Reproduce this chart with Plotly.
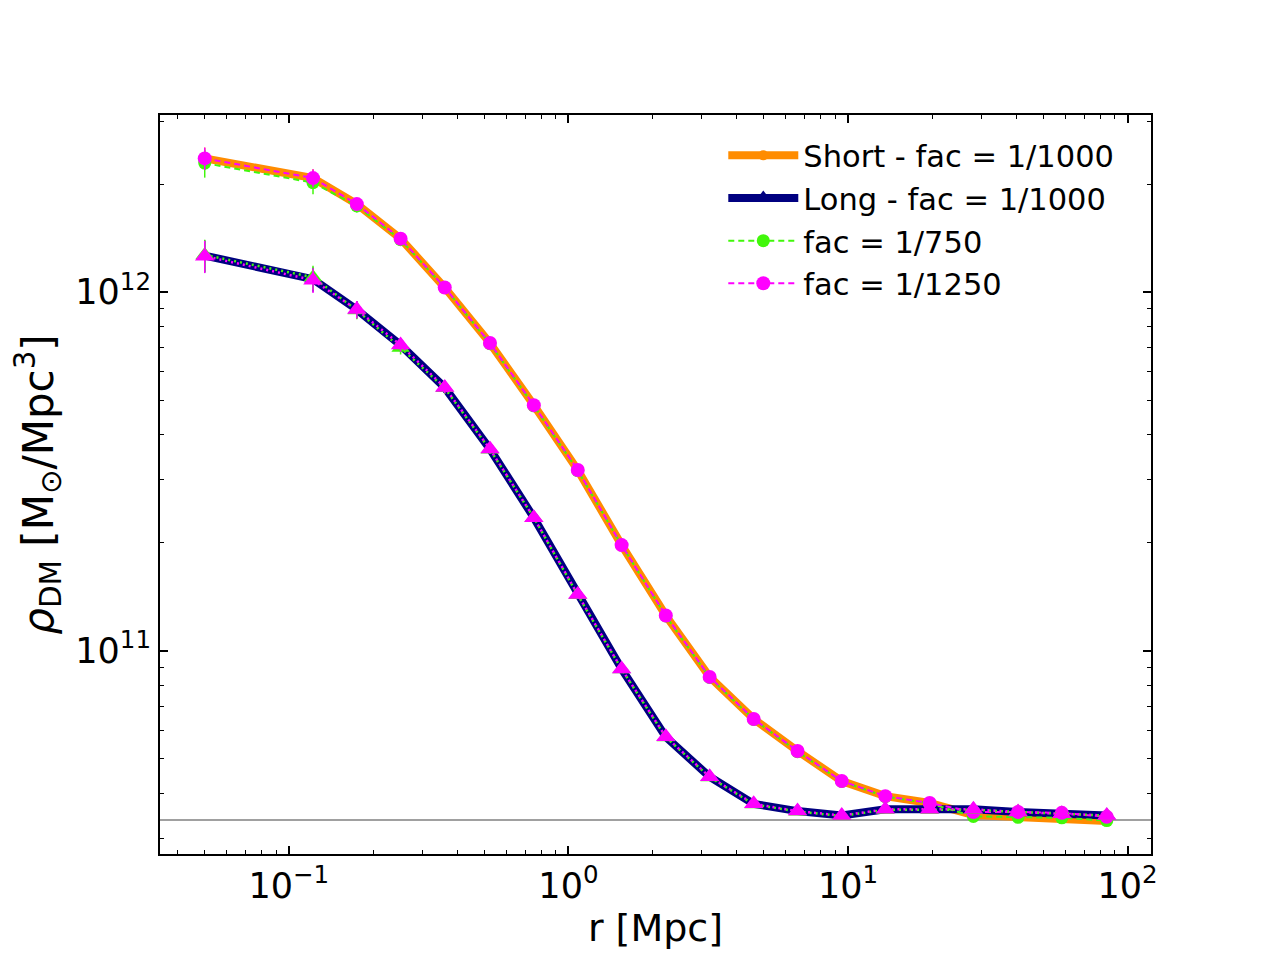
import plotly.graph_objects as go

# radial bins [Mpc]
r = [0.05, 0.122, 0.175, 0.251, 0.361, 0.524, 0.752, 1.08, 1.55, 2.23,
     3.20, 4.60, 6.60, 9.50, 13.6, 19.6, 28.1, 40.6, 58.2, 84.3]

# short range run, fac = 1/1000
rho_short = [2.36e12, 2.08e12, 1.76e12, 1.41e12, 1.03e12, 7.21e11, 4.84e11, 3.19e11, 1.97e11, 1.254e11,
             8.45e10, 6.45e10, 5.25e10, 4.33e10, 3.93e10, 3.76e10, 3.48e10, 3.44e10, 3.42e10, 3.35e10]
err_short = [1.7e11, 1.2e11, 6e10, 4e10, 2.5e10, 1.5e10, 8e9, 5e9, 2.5e9, 1.5e9,
             8e8, 5e8, 3e8, 2e8, 1.5e8, 1e8, 1e8, 1e8, 1e8, 1e8]
# long range run, fac = 1/1000
rho_long = [1.264e12, 1.087e12, 8.94e11, 7.12e11, 5.42e11, 3.65e11, 2.35e11, 1.434e11, 8.89e10, 5.75e10,
            4.45e10, 3.74e10, 3.57e10, 3.47e10, 3.61e10, 3.61e10, 3.61e10, 3.55e10, 3.51e10, 3.47e10]
err_long = [1.3e11, 8.5e10, 5e10, 3e10, 2e10, 1e10, 6e9, 3e9, 2e9, 1e9,
            6e8, 4e8, 3e8, 2e8, 1.5e8, 1e8, 1e8, 1e8, 1e8, 1e8]

# fac = 1/750
rho_short_750 = [2.29e12, 2.02e12, 1.74e12, 1.40e12, 1.03e12, 7.18e11, 4.82e11, 3.18e11, 1.97e11, 1.25e11,
                 8.42e10, 6.43e10, 5.23e10, 4.32e10, 3.92e10, 3.75e10, 3.45e10, 3.43e10, 3.42e10, 3.36e10]
rho_long_750 = [1.27e12, 1.10e12, 8.90e11, 7.00e11, 5.40e11, 3.64e11, 2.35e11, 1.43e11, 8.88e10, 5.74e10,
                4.44e10, 3.73e10, 3.56e10, 3.46e10, 3.60e10, 3.60e10, 3.60e10, 3.55e10, 3.51e10, 3.47e10]
# fac = 1/1250
rho_short_1250 = [2.36e12, 2.08e12, 1.76e12, 1.41e12, 1.03e12, 7.21e11, 4.84e11, 3.19e11, 1.97e11, 1.254e11,
                  8.45e10, 6.45e10, 5.25e10, 4.33e10, 3.93e10, 3.76e10, 3.55e10, 3.55e10, 3.53e10, 3.44e10]
rho_long_1250 = [1.26e12, 1.08e12, 8.94e11, 7.12e11, 5.42e11, 3.65e11, 2.35e11, 1.434e11, 8.89e10, 5.75e10,
                 4.45e10, 3.74e10, 3.57e10, 3.47e10, 3.61e10, 3.61e10, 3.61e10, 3.55e10, 3.51e10, 3.47e10]

# mean background density
rho_mean = 3.37e10

ORANGE = '#ff8c00'
NAVY = '#000080'
GREEN = '#41f70b'
MAGENTA = '#ff00ff'

fig = go.Figure()

def err(vals, color):
    return dict(type='data', array=vals, color=color, thickness=1.5, width=0)

# thick base curves
fig.add_trace(go.Scatter(
    x=r, y=rho_short, mode='lines+markers', name='Short - fac = 1/1000',
    line=dict(color=ORANGE, width=8),
    marker=dict(symbol='circle', size=10, color=ORANGE),
    error_y=err(err_short, ORANGE)))
fig.add_trace(go.Scatter(
    x=r, y=rho_long, mode='lines+markers', name='Long - fac = 1/1000',
    line=dict(color=NAVY, width=8),
    marker=dict(symbol='triangle-up', size=15, color=NAVY),
    error_y=err(err_long, NAVY)))

# other factors, dashed on short, dotted on long
fig.add_trace(go.Scatter(
    x=r, y=rho_short_750, mode='lines+markers', name='fac = 1/750',
    line=dict(color=GREEN, width=2, dash='6px,4px'),
    marker=dict(symbol='circle', size=13, color=GREEN),
    error_y=err([e * 1.2 for e in err_short], GREEN)))
fig.add_trace(go.Scatter(
    x=r, y=rho_short_1250, mode='lines+markers', name='fac = 1/1250',
    line=dict(color=MAGENTA, width=2, dash='6px,4px'),
    marker=dict(symbol='circle', size=14, color=MAGENTA),
    error_y=err(err_short, MAGENTA)))
fig.add_trace(go.Scatter(
    x=r, y=rho_long_750, mode='lines+markers', showlegend=False,
    line=dict(color=GREEN, width=2.5, dash='2px,4px'),
    marker=dict(symbol='triangle-up', size=16, color=GREEN),
    error_y=err(err_long, GREEN)))
fig.add_trace(go.Scatter(
    x=r, y=rho_long_1250, mode='lines+markers', showlegend=False,
    line=dict(color=MAGENTA, width=2.5, dash='0px,3px,2px,1px'),
    marker=dict(symbol='triangle-up', size=17, color=MAGENTA),
    error_y=err(err_long, MAGENTA)))

fig.add_hline(y=rho_mean, line=dict(color='gray', width=1.5), layer='below')

axis_style = dict(
    type='log', showgrid=False, zeroline=False, showline=True, linecolor='black', linewidth=2,
    mirror='allticks', ticks='inside', ticklen=8, tickwidth=1.5, tickcolor='black',
    minor=dict(ticks='inside', ticklen=4, tickwidth=1, tickcolor='black', dtick='D1'),
    tickfont=dict(size=35, color='black'))

fig.update_xaxes(axis_style, range=[-1.461, 2.084], dtick=1,
                 tickvals=[0.1, 1, 10, 100],
                 ticktext=['10<sup>\u22121</sup>', '10<sup>0</sup>', '10<sup>1</sup>', '10<sup>2</sup>'],
                 title=dict(text='r [Mpc]', font=dict(size=38, color='black'), standoff=4))
fig.update_yaxes(axis_style, range=[10.433, 12.494], dtick=1,
                 tickvals=[1e11, 1e12],
                 ticktext=['10<sup>11</sup>', '10<sup>12</sup>'],
                 title=dict(text='<i>\u03c1</i><sub>DM</sub> [M<sub>\u2299</sub>/Mpc<sup>3</sup>]',
                            font=dict(size=42, color='black'), standoff=14))

fig.update_layout(
    width=1280, height=960,
    margin=dict(l=152, r=137, t=107, b=114),
    paper_bgcolor='white', plot_bgcolor='white',
    font=dict(family='DejaVu Sans', color='black'),
    legend=dict(x=0.968, y=0.981, xanchor='right', yanchor='top',
                bgcolor='rgba(0,0,0,0)', font=dict(size=30.5), itemwidth=70,
                tracegroupgap=0))

fig.write_html("out.html")
